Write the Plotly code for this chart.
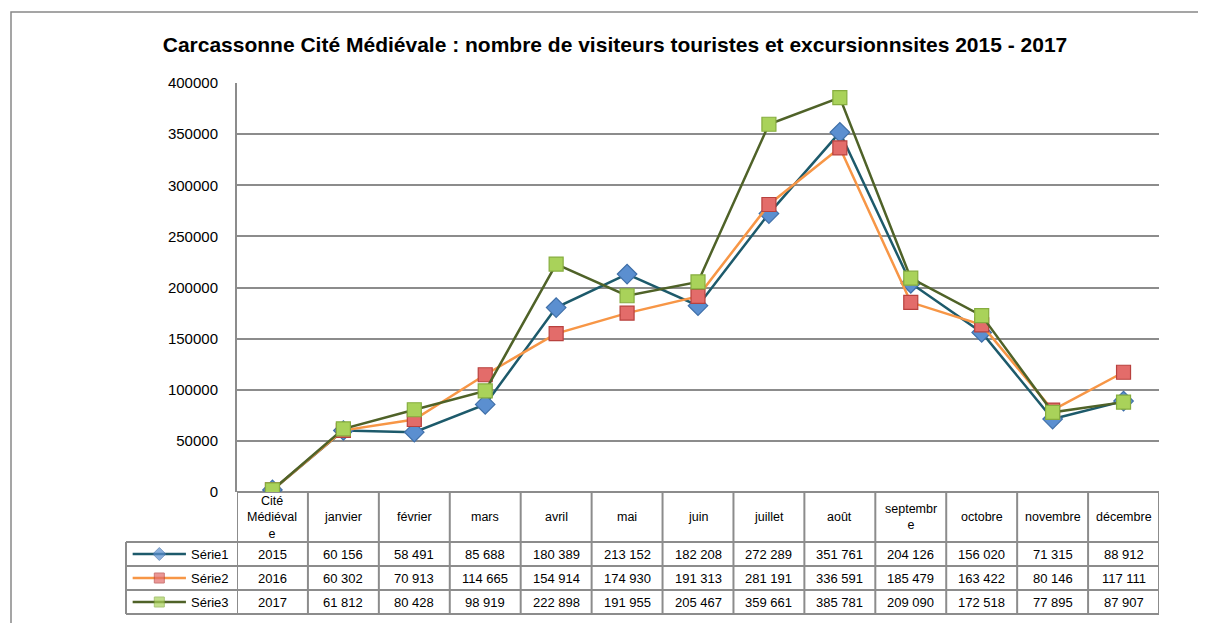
import plotly.graph_objects as go

# Données du graphique
categories = ["Cité Médiévale", "janvier", "février", "mars", "avril", "mai", "juin",
              "juillet", "août", "septembre", "octobre", "novembre", "décembre"]
header_labels = ["Cité<br>Médiéval<br>e", "janvier", "février", "mars", "avril", "mai", "juin",
                 "juillet", "août", "septembr<br>e", "octobre", "novembre", "décembre"]
serie1 = [2015, 60156, 58491, 85688, 180389, 213152, 182208, 272289, 351761, 204126, 156020, 71315, 88912]
serie2 = [2016, 60302, 70913, 114665, 154914, 174930, 191313, 281191, 336591, 185479, 163422, 80146, 117111]
serie3 = [2017, 61812, 80428, 98919, 222898, 191955, 205467, 359661, 385781, 209090, 172518, 77895, 87907]
series_names = ["Série1", "Série2", "Série3"]
y_ticks = [0, 50000, 100000, 150000, 200000, 250000, 300000, 350000, 400000]

# la page ajoute une marge de 8 px : la figure est réduite pour tenir dans la fenêtre
OFF = 8
W, H = 1206 - 2 * OFF, 631 - 2 * OFF
FONT = "Liberation Sans, Arial, sans-serif"
GRID = "#8c8c8c"

styles = [
    dict(line="#1d5a6b", symbol="diamond", fill="#5b8fd0", edge="#3f6fa8", size=15),
    dict(line="#f79646", symbol="square", fill="#e36c6a", edge="#b8413e", size=14),
    dict(line="#4f6228", symbol="square", fill="#a9d25a", edge="#86ad3f", size=14),
]


def fmt(v):
    # format à la française : espace comme séparateur de milliers
    return f"{v:,}".replace(",", " ") if v >= 10000 else str(v)


def px(pix):
    return (pix - OFF) / W


def py(pix):
    return 1 - (pix - OFF) / H


fig = go.Figure()
xs = list(range(len(categories)))
for name, vals, st in zip(series_names, [serie1, serie2, serie3], styles):
    fig.add_trace(go.Scatter(
        x=xs, y=vals, name=name, mode="lines+markers",
        line=dict(color=st["line"], width=2.5),
        marker=dict(symbol=st["symbol"], size=st["size"], color=st["fill"],
                    line=dict(color=st["edge"], width=1.2)),
        showlegend=False,
    ))

# symboles de légende dans le tableau (axes secondaires)
for i, (name, st) in enumerate(zip(series_names, styles)):
    fig.add_trace(go.Scatter(
        x=[0.06, 0.3, 0.54], y=[i + 0.5] * 3, mode="lines+markers",
        line=dict(color=st["line"], width=2.5),
        marker=dict(symbol=st["symbol"], size=[0, 10, 0], color=st["fill"],
                    line=dict(color=st["edge"], width=1)),
        xaxis="x2", yaxis="y2", showlegend=False, hoverinfo="skip",
    ))

plot_l, plot_r = 237, 1159
plot_t, plot_b = 83, 492
rows = [492, 542, 566, 590, 614]
leg_l = 126

fig.update_layout(
    width=W, height=H,
    margin=dict(l=0, r=0, t=0, b=0, autoexpand=False),
    paper_bgcolor="white", plot_bgcolor="white",
    font=dict(family=FONT, color="black"),
    title=dict(text="<b>Carcassonne Cité Médiévale : nombre de visiteurs touristes et excursionnsites 2015 - 2017</b>",
               x=px(615), y=py(45), xanchor="center", yanchor="middle",
               font=dict(size=21, family=FONT, color="black")),
    xaxis=dict(domain=[px(plot_l), px(plot_r)], range=[-0.5, len(categories) - 0.5],
               showticklabels=False, showgrid=False, zeroline=False, showline=False, ticks="",
               automargin=False),
    yaxis=dict(domain=[py(plot_b), py(plot_t)], range=[0, 400000],
               tickvals=y_ticks, ticktext=[str(v) for v in y_ticks],
               showgrid=True, gridcolor=GRID, gridwidth=2,
               zeroline=True, zerolinecolor=GRID, zerolinewidth=2,
               showline=True, linecolor=GRID, linewidth=2,
               ticks="", ticklabelstandoff=14, automargin=False,
               tickfont=dict(size=15, family=FONT, color="black")),
    xaxis2=dict(domain=[px(leg_l), px(plot_l)], range=[0, 1], visible=False, fixedrange=True,
                automargin=False),
    yaxis2=dict(domain=[py(rows[4]), py(rows[1])], range=[3, 0], visible=False, fixedrange=True,
                automargin=False),
)

shapes = []
# cadre extérieur
shapes.append(dict(type="rect", xref="paper", yref="paper", x0=px(11), y0=py(12), x1=1.05, y1=-0.05,
                   line=dict(color="#888888", width=1.5), layer="below"))
# lignes verticales du tableau
for i in range(len(categories) + 1):
    shapes.append(dict(type="line", xref="x", yref="paper", x0=i - 0.5, x1=i - 0.5,
                       y0=py(rows[0]), y1=py(rows[4]), line=dict(color=GRID, width=2)))
shapes.append(dict(type="line", xref="paper", yref="paper", x0=px(leg_l), x1=px(leg_l),
                   y0=py(rows[1]), y1=py(rows[4]), line=dict(color=GRID, width=2)))
# lignes horizontales du tableau
for r in rows[1:]:
    shapes.append(dict(type="line", xref="paper", yref="paper", x0=px(leg_l), x1=px(plot_r),
                       y0=py(r), y1=py(r), line=dict(color=GRID, width=2)))

annotations = []
for i, lab in enumerate(header_labels):
    annotations.append(dict(x=i, y=py((rows[0] + rows[1]) / 2), xref="x", yref="paper",
                            text=lab, showarrow=False, xanchor="center", yanchor="middle",
                            font=dict(size=12.5, family=FONT)))
for j, (name, vals) in enumerate(zip(series_names, [serie1, serie2, serie3])):
    yc = py((rows[j + 1] + rows[j + 2]) / 2)
    annotations.append(dict(x=px(231), y=yc, xref="paper", yref="paper", text=name,
                            showarrow=False, xanchor="right", yanchor="middle",
                            font=dict(size=13, family=FONT)))
    for i, v in enumerate(vals):
        annotations.append(dict(x=i, y=yc, xref="x", yref="paper", text=fmt(v),
                                showarrow=False, xanchor="center", yanchor="middle",
                                font=dict(size=13, family=FONT)))

fig.update_layout(shapes=shapes, annotations=annotations)

fig.write_html("out.html")
